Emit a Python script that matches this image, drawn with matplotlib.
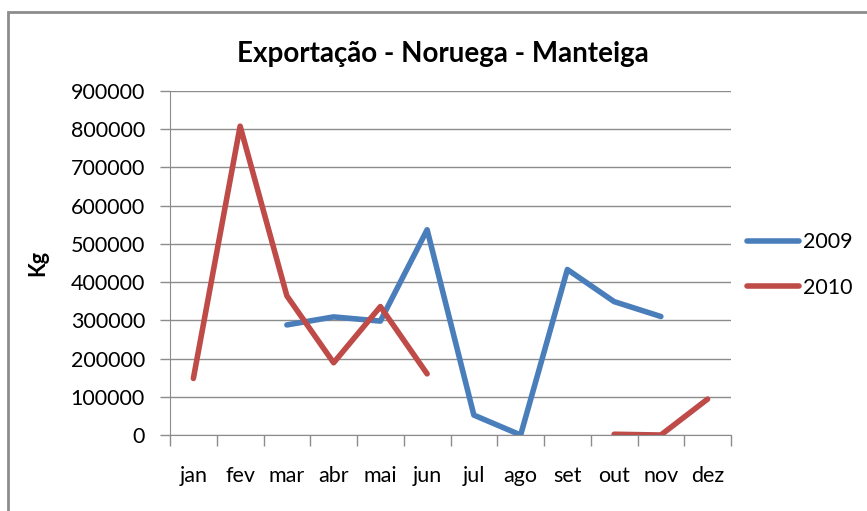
import numpy as np
import matplotlib.pyplot as plt
from matplotlib.patches import Rectangle

plt.rcParams['font.family'] = ['Lato', 'DejaVu Sans']

months = ['jan', 'fev', 'mar', 'abr', 'mai', 'jun', 'jul', 'ago', 'set', 'out', 'nov', 'dez']
# nan = no value for that month
y2009 = [np.nan, np.nan, 288000, 309000, 298000, 537000, 52000, 0, 433000, 349000, 310000, np.nan]
y2010 = [148000, 808000, 364000, 189000, 336000, 160000, np.nan, np.nan, np.nan, 2000, 0, 94000]

fig = plt.figure(figsize=(8.67, 5.11), dpi=100)
ax = fig.add_axes([170/867, 1 - 435/511, 561/867, 344/511])

x = np.arange(len(months)) + 0.5
ax.plot(x, y2009, color='#4a7ebb', lw=4, solid_capstyle='round', label='2009')
ax.plot(x, y2010, color='#be4b48', lw=4, solid_capstyle='round', label='2010')

ax.set_xlim(0, 12)
ax.set_ylim(0, 900000)
ax.set_yticks(np.arange(0, 900001, 100000))
ax.yaxis.grid(True, color='#8c8c8c', lw=1)
ax.set_axisbelow(True)

# ticks at the category borders, labels in the middle
ax.set_xticks(np.arange(0, 13))
ax.set_xticklabels([])
ax.set_xticks(x, minor=True)
ax.set_xticklabels(months, minor=True)
ax.tick_params(axis='x', which='major', length=8, color='#8c8c8c', width=1)
ax.tick_params(axis='x', which='minor', length=0, pad=22, labelsize=15.5)
ax.tick_params(axis='y', length=7, color='#8c8c8c', width=1, labelsize=15.5, pad=11)

for s in ['top', 'right']:
    ax.spines[s].set_visible(False)
ax.spines['left'].set_color('#8c8c8c')
ax.spines['bottom'].set_color('#8c8c8c')

ax.set_ylabel('Kg', fontsize=15.5, fontweight='bold', labelpad=16)
fig.text(443/867, 1 - 54/511, 'Exportação - Noruega - Manteiga', ha='center', va='center',
         fontsize=20, fontweight='bold')

ax.legend(loc='center left', bbox_to_anchor=(728/867, 1 - 265/511), bbox_transform=fig.transFigure,
          frameon=False, fontsize=15.5, handlelength=2.4, handletextpad=0.2, labelspacing=1.2)

# chart border
fig.patches.append(Rectangle((8/867, -0.1), 1.2, 1 - 12/511 + 0.1, transform=fig.transFigure,
                             fill=False, edgecolor='#8c8c8c', lw=2))

fig.savefig('out.png', dpi=100)
